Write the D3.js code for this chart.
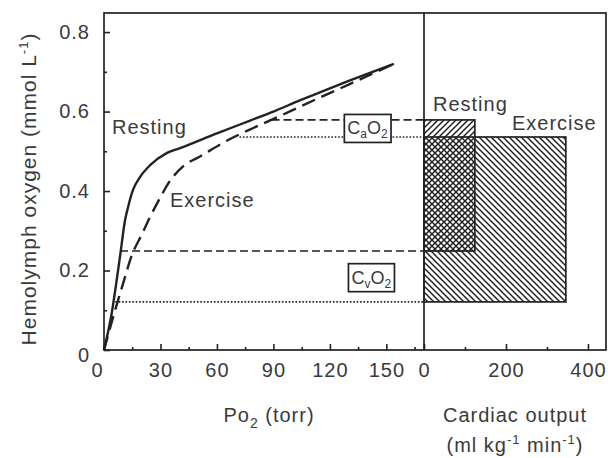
<!DOCTYPE html>
<html>
<head>
<meta charset="utf-8">
<script src="https://cdn.jsdelivr.net/npm/d3@7"></script>
<style>
  body { margin: 0; background: #fff; }
  text { font-family: "Liberation Sans", Arial, sans-serif; fill: #3a3a3a; letter-spacing: 1px; }
</style>
</head>
<body>
<script>
// dissociation curves
var po2Resting = [0, 4, 8.5, 11.2, 12.8, 15.4, 19.1, 24.5, 33.5, 40.4, 60, 78, 90, 104, 115, 130, 154];
var o2Resting  = [0, 0.09, 0.235, 0.327, 0.36, 0.403, 0.435, 0.465, 0.496, 0.508, 0.545, 0.578, 0.6, 0.628, 0.649, 0.677, 0.72];
var po2Exercise = [0, 5.9, 10, 14.9, 20, 24.5, 29.8, 34, 42, 51, 67, 79, 94, 104, 115, 130, 154];
var o2Exercise  = [0, 0.10, 0.165, 0.24, 0.29, 0.335, 0.383, 0.418, 0.462, 0.487, 0.531, 0.558, 0.59, 0.612, 0.636, 0.668, 0.72];

// arterial / venous contents and cardiac output
var conditions = ["Resting", "Exercise"];
var caO2 = [0.579, 0.536];
var cvO2 = [0.249, 0.121];
var caPo2 = [89, 72];
var cvPo2 = [8.5, 6];
var cardiacOutput = [124, 346];

var yTicks = [0, 0.2, 0.4, 0.6, 0.8],
    yMinor = [0.1, 0.3, 0.5, 0.7],
    po2Ticks = [0, 30, 60, 90, 120, 150],
    po2Minor = [15, 45, 75, 105, 135, 165],
    coTicks = [0, 200, 400],
    coMinor = [100, 300];

var width = 608, height = 458;
var pLeft = 104, pMid = 424, pRight = 606, pTop = 13, pBottom = 350;

var svg = d3.select("body").append("svg")
    .attr("width", width)
    .attr("height", height);

var y = d3.scaleLinear().domain([0, 0.848]).range([pBottom, pTop]),
    xP = d3.scaleLinear().domain([0, 170]).range([pLeft, pMid]),
    xC = d3.scaleLinear().domain([0, 444]).range([pMid, pRight]);

var ink = "#222";

// hatch patterns
var defs = svg.append("defs");
function hatch(id, dir) {
  var p = defs.append("pattern")
      .attr("id", id)
      .attr("patternUnits", "userSpaceOnUse")
      .attr("width", 6).attr("height", 6);
  var d = dir > 0 ? "M-1,1 l2,-2 M0,6 l6,-6 M5,7 l2,-2" : "M-1,5 l2,2 M0,0 l6,6 M5,-1 l2,2";
  p.append("path").attr("d", d).attr("stroke", ink).attr("stroke-width", 1.5);
}
hatch("hRest", 1);
hatch("hEx", -1);

// bars: exercise first, resting on top so the overlap cross-hatches
var bars = svg.append("g");
[1, 0].forEach(function(i) {
  bars.append("rect")
      .attr("x", xC(0))
      .attr("y", y(caO2[i]))
      .attr("width", xC(cardiacOutput[i]) - xC(0))
      .attr("height", y(cvO2[i]) - y(caO2[i]))
      .attr("fill", i == 0 ? "url(#hRest)" : "url(#hEx)")
      .attr("stroke", ink)
      .attr("stroke-width", 1.7);
});

// horizontal content lines
var lines = svg.append("g");
[0, 1].forEach(function(i) {
  var dash = i == 0 ? "8,4" : "1.6,1.8";
  lines.append("line")
      .attr("x1", xP(caPo2[i])).attr("x2", xC(0))
      .attr("y1", y(caO2[i])).attr("y2", y(caO2[i]))
      .attr("stroke", ink).attr("stroke-width", 1.6)
      .attr("stroke-dasharray", dash);
  lines.append("line")
      .attr("x1", xP(cvPo2[i])).attr("x2", xC(0))
      .attr("y1", y(cvO2[i])).attr("y2", y(cvO2[i]))
      .attr("stroke", ink).attr("stroke-width", 1.6)
      .attr("stroke-dasharray", dash);
});

// curves
var line = d3.line()
    .x(function(d) { return xP(d[0]); })
    .y(function(d) { return y(d[1]); })
    .curve(d3.curveMonotoneX);

svg.append("path")
    .datum(d3.zip(po2Resting, o2Resting))
    .attr("d", line)
    .attr("fill", "none")
    .attr("stroke", ink)
    .attr("stroke-width", 2.4);

svg.append("path")
    .datum(d3.zip(po2Exercise, o2Exercise))
    .attr("d", line)
    .attr("fill", "none")
    .attr("stroke", ink)
    .attr("stroke-width", 2.4)
    .attr("stroke-dasharray", "14,7");

// labelled boxes
function box(cx, cy, sub) {
  var g = svg.append("g");
  var t = g.append("text")
      .attr("x", cx).attr("y", cy + 6)
      .attr("text-anchor", "middle")
      .style("font-size", "18px")
      .style("letter-spacing", "0px");
  t.append("tspan").text("C");
  t.append("tspan").attr("dy", 4).style("font-size", "12px").text(sub);
  t.append("tspan").attr("dy", -4).text("O");
  t.append("tspan").attr("dy", 4).style("font-size", "12px").text("2");
  var b = t.node().getBBox();
  g.insert("rect", "text")
      .attr("x", b.x - 3).attr("y", cy - 14)
      .attr("width", b.width + 6).attr("height", 28)
      .attr("fill", "#fff")
      .attr("stroke", ink).attr("stroke-width", 1.7);
}
box(xP(140), y((caO2[0] + caO2[1]) / 2), "a");
box(xP(142), y(0.182), "v");

// axes, ticks pointing inward
var yAxisG = svg.append("g")
    .attr("transform", "translate(" + pLeft + ",0)")
    .call(d3.axisLeft(y).tickValues(yTicks).tickSize(-6).tickPadding(14).tickFormat(d3.format("")));
svg.append("g")
    .attr("transform", "translate(" + pLeft + ",0)")
    .call(d3.axisLeft(y).tickValues(yMinor).tickSize(-3).tickFormat(""));

var po2AxisG = svg.append("g")
    .attr("transform", "translate(0," + pBottom + ")")
    .call(d3.axisBottom(xP).tickValues(po2Ticks).tickSize(-6).tickPadding(8));
svg.append("g")
    .attr("transform", "translate(0," + pBottom + ")")
    .call(d3.axisBottom(xP).tickValues(po2Minor).tickSize(-3).tickFormat(""));

var coAxisG = svg.append("g")
    .attr("transform", "translate(0," + pBottom + ")")
    .call(d3.axisBottom(xC).tickValues(coTicks).tickSize(-6).tickPadding(8));
svg.append("g")
    .attr("transform", "translate(0," + pBottom + ")")
    .call(d3.axisBottom(xC).tickValues(coMinor).tickSize(-3).tickFormat(""));

svg.selectAll(".domain").remove();
svg.selectAll(".tick line").attr("stroke", ink).attr("stroke-width", 1.6);
svg.selectAll(".tick text")
    .style("font-size", "20px")
    .style("font-family", "'Liberation Sans', Arial, sans-serif")
    .attr("fill", "#3a3a3a");
[po2AxisG, coAxisG].forEach(function(g) {
  g.selectAll(".tick text").attr("dy", "0.95em");
});
// nudge zeros apart at the corner
po2AxisG.selectAll(".tick text").filter(function(d) { return d === 0; }).attr("dx", -7);
yAxisG.selectAll(".tick text").filter(function(d) { return d === 0; }).attr("dy", "0.55em");

// frame and divider
svg.append("rect")
    .attr("x", pLeft).attr("y", pTop)
    .attr("width", pRight - pLeft).attr("height", pBottom - pTop)
    .attr("fill", "none")
    .attr("stroke", ink).attr("stroke-width", 1.7);
svg.append("line")
    .attr("x1", pMid).attr("x2", pMid)
    .attr("y1", pTop).attr("y2", pBottom)
    .attr("stroke", ink).attr("stroke-width", 1.7);

// labels
svg.append("text").attr("x", 112).attr("y", 134).style("font-size", "20px").text(conditions[0]);
svg.append("text").attr("x", 170).attr("y", 207).style("font-size", "20px").text(conditions[1]);
svg.append("text").attr("x", 433).attr("y", 111).style("font-size", "20px").text(conditions[0]);
svg.append("text").attr("x", 512).attr("y", 130).style("font-size", "20px").text(conditions[1]);

var yl = svg.append("text")
    .attr("transform", "translate(36,189) rotate(-90)")
    .attr("text-anchor", "middle")
    .style("font-size", "21px");
yl.append("tspan").text("Hemolymph oxygen (mmol L");
yl.append("tspan").attr("dy", -8).style("font-size", "13px").text("-1");
yl.append("tspan").attr("dy", 8).text(")");

var xl = svg.append("text")
    .attr("x", 269).attr("y", 422)
    .attr("text-anchor", "middle")
    .style("font-size", "20px");
xl.append("tspan").text("Po");
xl.append("tspan").attr("dy", 6).style("font-size", "14px").text("2");
xl.append("tspan").attr("dy", -6).text(" (torr)");

svg.append("text")
    .attr("x", 515).attr("y", 422)
    .attr("text-anchor", "middle")
    .style("font-size", "20px")
    .text("Cardiac output");
var cl = svg.append("text")
    .attr("x", 515).attr("y", 452)
    .attr("text-anchor", "middle")
    .style("font-size", "20px");
cl.append("tspan").text("(ml kg");
cl.append("tspan").attr("dy", -8).style("font-size", "13px").text("-1");
cl.append("tspan").attr("dy", 8).text(" min");
cl.append("tspan").attr("dy", -8).style("font-size", "13px").text("-1");
cl.append("tspan").attr("dy", 8).text(")");
</script>
</body>
</html>
